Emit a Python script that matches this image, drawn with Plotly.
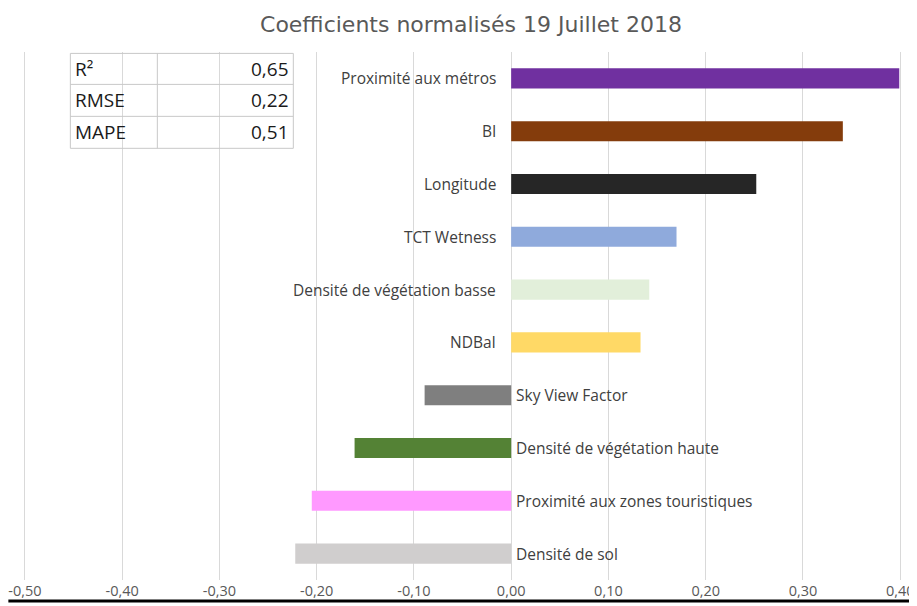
import plotly.graph_objects as go

# Donnees
variables = [
    "Proximité aux métros",
    "BI",
    "Longitude",
    "TCT Wetness",
    "Densité de végétation basse",
    "NDBaI",
    "Sky View Factor",
    "Densité de végétation haute",
    "Proximité aux zones touristiques",
    "Densité de sol",
]
coefficients = [0.399, 0.341, 0.252, 0.170, 0.142, 0.133, -0.089, -0.161, -0.205, -0.222]
couleurs = ["#7030a0", "#843c0c", "#262626", "#8faadc", "#e2efda",
            "#ffd966", "#7f7f7f", "#548235", "#ff99ff", "#d0cece"]

indicateurs = ["R²", "RMSE", "MAPE"]
valeurs_ind = ["0,65", "0,22", "0,51"]

x_ticks = [-0.5, -0.4, -0.3, -0.2, -0.1, 0.0, 0.1, 0.2, 0.3, 0.4]
x_ticklabels = ["-0,50", "-0,40", "-0,30", "-0,20", "-0,10", "0,00", "0,10", "0,20", "0,30", "0,40"]

# La page a une marge de 8px autour du graphique : on travaille en coordonnees fenetre
OFF = 8
W, H = 917 - OFF, 606 - OFF
X_MIN, X_MAX = -0.505, 0.408
ECHELLE = (900 - 24.5) / 0.9  # pixels par unite
P_LEFT = 24.5 + (X_MIN + 0.5) * ECHELLE
P_RIGHT = 24.5 + (X_MAX + 0.5) * ECHELLE
P_TOP, P_BOTTOM = 51.6, 580
ML = P_LEFT - OFF
MR = W - (P_RIGHT - OFF)
MT = P_TOP - OFF
MB = H - (P_BOTTOM - OFF)
PW, PH = P_RIGHT - P_LEFT, P_BOTTOM - P_TOP

POLICE = "Open Sans"

fig = go.Figure(go.Bar(
    x=coefficients,
    y=variables,
    orientation="h",
    marker=dict(color=couleurs, line=dict(width=0)),
    width=0.38,
    hoverinfo="x+y",
))

# Etiquettes pres de zero
for v, c in zip(variables, coefficients):
    if c >= 0:
        fig.add_annotation(x=0, y=v, text=v, showarrow=False, xanchor="right", yanchor="middle",
                           xshift=-13, font=dict(family=POLICE, size=15.5, color="#404040"))
    else:
        fig.add_annotation(x=0, y=v, text=v, showarrow=False, xanchor="left", yanchor="middle",
                           xshift=3, font=dict(family=POLICE, size=15.5, color="#404040"))


# Conversion pixels fenetre -> coordonnees papier
def px_x(p):
    return (p - P_LEFT) / PW


def px_y(p):
    return (P_BOTTOM - p) / PH


# Petit tableau des indicateurs
tx0, tx1, tx2 = 70, 157, 293
rows = [53, 84, 116, 148]
bord = dict(color="#c8c8c8", width=1)
fig.add_shape(type="rect", xref="paper", yref="paper", x0=px_x(tx0), x1=px_x(tx2),
              y0=px_y(rows[-1]), y1=px_y(rows[0]), line=bord)
fig.add_shape(type="line", xref="paper", yref="paper", x0=px_x(tx1), x1=px_x(tx1),
              y0=px_y(rows[-1]), y1=px_y(rows[0]), line=bord)
for r in rows[1:-1]:
    fig.add_shape(type="line", xref="paper", yref="paper", x0=px_x(tx0), x1=px_x(tx2),
                  y0=px_y(r), y1=px_y(r), line=bord)
for i, (nom, val) in enumerate(zip(indicateurs, valeurs_ind)):
    yc = px_y((rows[i] + rows[i + 1]) / 2)
    fig.add_annotation(xref="paper", yref="paper", x=px_x(tx0 + 3), y=yc, text=nom,
                       showarrow=False, xanchor="left", yanchor="middle",
                       font=dict(family=POLICE, size=19, color="#1a1a1a"))
    fig.add_annotation(xref="paper", yref="paper", x=px_x(tx2 - 2), y=yc, text=val,
                       showarrow=False, xanchor="right", yanchor="middle",
                       font=dict(family=POLICE, size=19, color="#1a1a1a"))

# Trait noir en bas
fig.add_shape(type="line", xref="paper", yref="paper", x0=px_x(OFF), x1=px_x(917),
              y0=px_y(601), y1=px_y(601), line=dict(color="black", width=3))

fig.update_layout(
    width=W, height=H,
    margin=dict(l=ML, r=MR, t=MT, b=MB, autoexpand=False),
    plot_bgcolor="white",
    paper_bgcolor="white",
    showlegend=False,
    title=dict(text="Coefficients normalisés 19 Juillet 2018",
               x=(471 - OFF) / W, xanchor="center",
               y=1 - (24 - OFF) / H, yanchor="middle",
               font=dict(family="DejaVu Sans", size=22, color="#595959")),
    xaxis=dict(range=[X_MIN, X_MAX], tickvals=x_ticks, ticktext=x_ticklabels,
               showgrid=True, gridcolor="#d9d9d9", gridwidth=1, zeroline=False,
               showline=False, ticks="",
               tickfont=dict(family=POLICE, size=14.5, color="#595959")),
    yaxis=dict(autorange="reversed", showticklabels=False, showgrid=False,
               zeroline=False, showline=False, ticks=""),
)

fig.write_html("out.html")
